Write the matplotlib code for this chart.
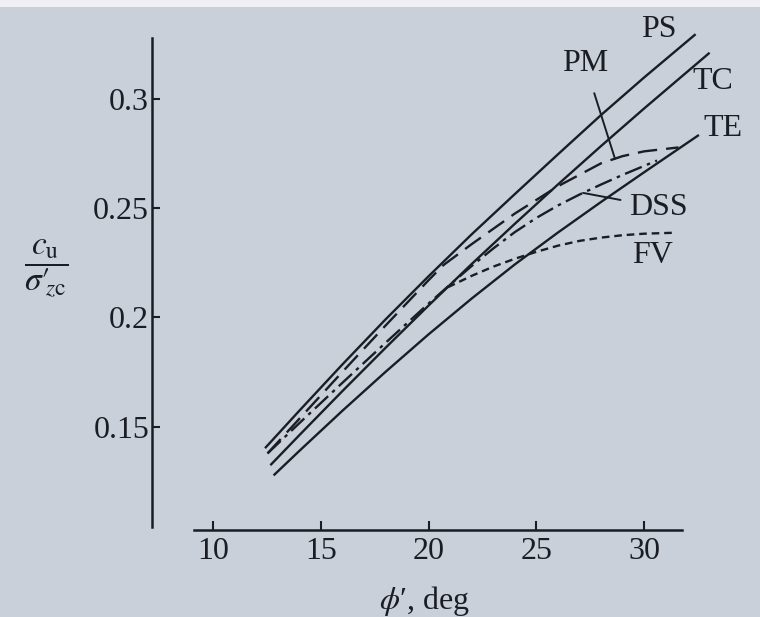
import numpy as np
import matplotlib
matplotlib.use("Agg")
import matplotlib.pyplot as plt
from matplotlib.patches import Rectangle

plt.rcParams['font.family'] = ['Liberation Serif', 'DejaVu Serif']
plt.rcParams['mathtext.fontset'] = 'stix'
plt.rcParams['lines.scale_dashes'] = False

INK = '#1b1d24'
PAPER = '#c9d0da'

# phi' (deg) against cu / sigma'_zc
PS_PHI = [12.45, 14, 16, 18, 20, 22, 24, 26, 28, 30, 32.35]
PS_CU = [0.1405, 0.1572, 0.1784, 0.1990, 0.2188, 0.2380, 0.2564, 0.2746, 0.2926, 0.3098, 0.3293]

TC_PHI = [12.7, 14, 16, 18, 20, 22, 24, 26, 28, 30, 33.0]
TC_CU = [0.1327, 0.1460, 0.1662, 0.1860, 0.2054, 0.2244, 0.2428, 0.2608, 0.2784, 0.2956, 0.3208]

TE_PHI = [12.85, 14, 16, 18, 20, 22, 24, 26, 28, 30, 32.5]
TE_CU = [0.1280, 0.1388, 0.1572, 0.1750, 0.1922, 0.2086, 0.2242, 0.2388, 0.2528, 0.2664, 0.2832]

PM_PHI = [12.53, 14, 16, 18, 20, 20.7, 22, 24, 26, 28, 29, 30, 31.6]
PM_CU = [0.1377, 0.1535, 0.1750, 0.1962, 0.2170, 0.2240, 0.2335, 0.2475, 0.2600, 0.2705, 0.2738, 0.2760, 0.2778]

DSS_PHI = [12.53, 14, 16, 18, 20, 21, 22, 23, 24, 25, 26, 27, 28, 29, 30.6]
DSS_CU = [0.1377, 0.1515, 0.1700, 0.1883, 0.2063, 0.2150, 0.2235, 0.2315, 0.2390, 0.2455,
          0.2512, 0.2562, 0.2608, 0.2652, 0.2718]

FV_PHI = [20.9, 22, 23, 24, 25, 26, 27, 28, 29, 30, 31.3]
FV_CU = [0.2138, 0.2190, 0.2232, 0.2268, 0.2300, 0.2328, 0.2350, 0.2365, 0.2376, 0.2383, 0.2387]

X_TICKS = [10, 15, 20, 25, 30]
Y_TICKS = [0.15, 0.2, 0.25, 0.3]
Y_TICK_LABELS = ['0.15', '0.2', '0.25', '0.3']

fig = plt.figure(figsize=(7.6, 6.17), dpi=100, facecolor=PAPER)
ax = fig.add_axes([0, 0, 1, 1])
ax.patch.set_visible(False)
ax.set_xlim(0.116, 35.38)
ax.set_ylim(0.0628, 0.3453)

# white strip at the top edge of the photo
fig.add_artist(Rectangle((0, 1 - 7 / 617), 1, 7 / 617, transform=fig.transFigure,
                         facecolor='#eef0f3', edgecolor='none'))

lw = 1.7
ax.plot(PS_PHI, PS_CU, color=INK, lw=lw)
ax.plot(TC_PHI, TC_CU, color=INK, lw=lw)
ax.plot(TE_PHI, TE_CU, color=INK, lw=lw)
ax.plot(PM_PHI, PM_CU, color=INK, lw=lw, linestyle=(0, (14, 6.5)))
ax.plot(DSS_PHI, DSS_CU, color=INK, lw=lw, linestyle=(0, (13, 4, 2.5, 4)))
ax.plot(FV_PHI, FV_CU, color=INK, lw=lw, linestyle=(0, (5.5, 3.5)))

# curve labels
fs = 23
ax.text(30.70, 0.3316, 'PS', fontsize=fs, color=INK, ha='center', va='center')
ax.text(33.20, 0.3078, 'TC', fontsize=fs, color=INK, ha='center', va='center')
ax.text(33.67, 0.2863, 'TE', fontsize=fs, color=INK, ha='center', va='center')
ax.text(30.37, 0.2281, 'FV', fontsize=fs, color=INK, ha='center', va='center')
ax.annotate('PM', xy=(28.65, np.interp(28.65, PM_PHI, PM_CU)), xytext=(27.26, 0.3160),
            fontsize=fs, color=INK, ha='center', va='center',
            arrowprops=dict(arrowstyle='-', color=INK, lw=1.4, shrinkA=9, shrinkB=0))
ax.annotate('DSS', xy=(27.17, np.interp(27.17, DSS_PHI, DSS_CU)), xytext=(30.65, 0.2505),
            fontsize=fs, color=INK, ha='center', va='center',
            arrowprops=dict(arrowstyle='-', color=INK, lw=1.4, shrinkA=4, shrinkB=0))

# detached axes
for side in ['top', 'right']:
    ax.spines[side].set_visible(False)
ax.spines['left'].set_position(('data', 7.17))
ax.spines['left'].set_bounds(0.104, 0.328)
ax.spines['bottom'].set_position(('data', 0.1027))
ax.spines['bottom'].set_bounds(9.12, 31.76)
for side in ['left', 'bottom']:
    ax.spines[side].set_linewidth(1.8)
    ax.spines[side].set_color(INK)

ax.set_xticks(X_TICKS)
ax.set_yticks(Y_TICKS)
ax.set_yticklabels(Y_TICK_LABELS)
ax.tick_params(axis='x', direction='in', length=6.5, width=1.5, pad=5,
               labelsize=fs, colors=INK)
ax.tick_params(axis='y', direction='in', length=6, width=1.5, pad=2,
               labelsize=fs, colors=INK)

fig.text(46 / 760, 1 - 268 / 617, r'$\dfrac{c_\mathrm{u}}{\sigma\prime_{\!\!z\mathrm{c}}}$',
         fontsize=24, color=INK, ha='center', va='center')
fig.text(424 / 760, 1 - 609 / 617, "$\\phi$\u2032, deg", fontsize=fs, color=INK,
         ha='center', va='baseline')

fig.savefig('out.png', dpi=100, facecolor=PAPER)
